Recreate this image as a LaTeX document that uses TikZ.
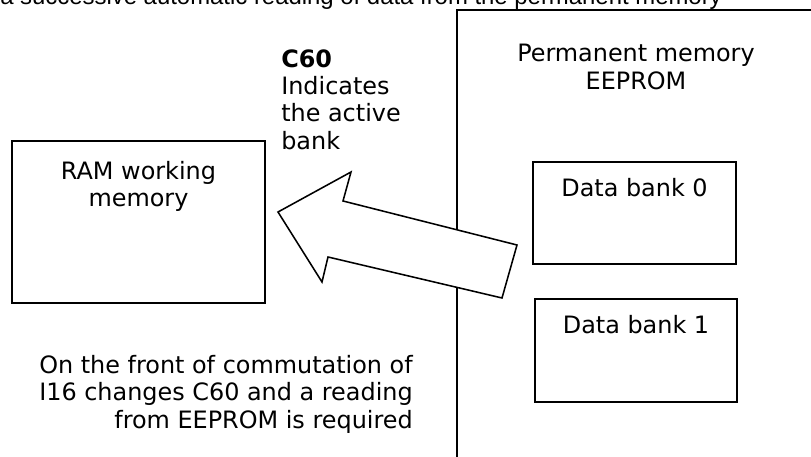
\documentclass[tikz,border=0pt]{standalone}
\usepackage{fontspec}
\setmainfont{DejaVu Sans}
\newfontfamily\captfont{Liberation Sans}
\usetikzlibrary{positioning}
\tikzset{
  membox/.style={draw, line width=1.4pt, inner sep=0pt},
  boxtxt/.style={font=\fontsize{17}{19.5}\selectfont, align=center, inner sep=0pt},
  note/.style={font=\fontsize{17}{19.5}\selectfont, inner sep=0pt},
  bigarrow/.style={draw, fill=white, line width=1.1pt, line join=miter},
}
\begin{document}
\begin{tikzpicture}[x=0.025cm, y=-0.025cm]
  \useasboundingbox (0,0) rectangle (811,457);
  % caption, cut at the top
  \node[anchor=base west, inner sep=0pt, font=\captfont\fontsize{17}{19}\selectfont] (capt) at (0,5)
    {a successive automatic reading of data from the permanent memory};
  % permanent memory
  \draw[line width=1.4pt] (457,470) |- (830,10);
  \node[boxtxt] (perm) at (636,67) {Permanent memory\\EEPROM};
  \node[membox, minimum width=203*0.025cm, minimum height=102*0.025cm] (bank0) at (634.5,213) {};
  \node[membox, minimum width=202*0.025cm, minimum height=103*0.025cm] (bank1) at (636,350.5) {};
  \node[boxtxt, below=17.5*0.025cm of bank0.north] (bank0t) {Data bank 0};
  \node[boxtxt, below=17.5*0.025cm of bank1.north] (bank1t) {Data bank 1};
  % working memory
  \node[membox, minimum width=253*0.025cm, minimum height=162*0.025cm] (ram) at (138.5,222) {};
  \node[boxtxt, below=21*0.025cm of ram.north] (ramt) {RAM working\\memory};
  % notes
  \node[note, anchor=north west, align=left] (c60) at (281,49)
    {\textbf{C60}\\Indicates\\the active\\bank};
  \node[note, anchor=north east, align=right] (front) at (413,355)
    {On the front of commutation of\\I16 changes C60 and a reading\\from EEPROM is required};
  % transfer arrow
  \draw[bigarrow] (278,212) -- (351,172) -- (343,201) -- (517,245)
    -- (502,298) -- (328,257) -- (322,282) -- cycle;
\end{tikzpicture}
\end{document}
